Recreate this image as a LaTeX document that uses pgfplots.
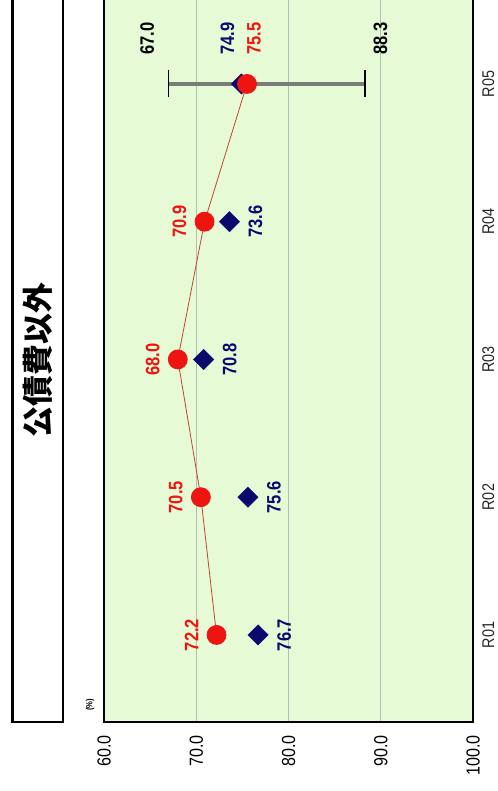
\documentclass[border=0pt]{standalone}
\usepackage{pgfplots}
\pgfplotsset{compat=1.18}
\usepackage{fontspec}
\setmainfont{Liberation Sans}
\newfontfamily\nf{Liberation Sans}[FakeStretch=0.85]
\newfontfamily\cjk{Noto Sans CJK JP}
\definecolor{bg}{RGB}{230,250,214}
\definecolor{navy}{RGB}{10,10,110}
\definecolor{redm}{RGB}{238,20,16}
\definecolor{linec}{RGB}{190,70,50}
\definecolor{gridc}{RGB}{180,190,180}
\definecolor{errc}{RGB}{120,125,120}
\begin{document}
\begin{tikzpicture}[x=1bp,y=1bp]
\draw[line width=2.5bp, fill=white] (12.5,69) rectangle (63,800);
\node[rotate=90, font=\cjk\bfseries\fontsize{31}{31}\selectfont] at (37.5,431) {公債費以外};
\node[rotate=90, font=\nf\bfseries\fontsize{9}{9}\selectfont] at (90,86) {(\%)};
\begin{axis}[
  at={(104bp,69bp)}, anchor=south west,
  scale only axis, width=369bp, height=724bp,
  xmin=60, xmax=100, ymin=0.368, ymax=5.624,
  xtick={60,70,80,90,100},
  xticklabels={60.0,70.0,80.0,90.0,100.0},
  ytick={1,2,3,4,5}, yticklabels={R01,R02,R03,R04,R05},
  yticklabel pos=right,
  major tick length=0,
  xmajorgrids, grid style={gridc, line width=1.2bp},
  axis background/.style={fill=bg},
  axis line style={line width=2bp},
  xticklabel style={rotate=90, anchor=east, font=\nf\fontsize{19}{19}\selectfont},
  xticklabel shift=10bp,
  yticklabel style={rotate=90, anchor=north, inner sep=0pt, font=\nf\fontsize{17}{17}\selectfont, text=black!85},
  yticklabel shift=9bp,
  clip=false,
]
% error bar
\addplot[errc, line width=4bp] coordinates {(67.0,5) (88.3,5)};
\addplot[only marks, mark=|, mark size=13.5bp, mark options={black, line width=1.8bp}] coordinates {(67.0,5) (88.3,5)};
% blue diamonds
\addplot[only marks, mark=square*, mark size=7.2bp, mark options={rotate=45, fill=navy, draw=navy}]
  coordinates {(76.7,1) (75.6,2) (70.8,3) (73.6,4) (74.9,5)};
% red line + circles
\addplot[linec, line width=0.8bp, mark=*, mark size=9.5bp, mark options={fill=redm, draw=redm}]
  coordinates {(72.2,1) (70.5,2) (68.0,3) (70.9,4) (75.5,5)};
% red labels (left)
\addplot[draw=none, nodes near coords, point meta=explicit symbolic,
  every node near coord/.style={xshift=-18bp, rotate=90, anchor=south, inner sep=0pt, text=redm, font=\nf\bfseries\fontsize{19.5}{19.5}\selectfont}]
  coordinates {(72.2,1) [72.2] (70.5,2) [70.5] (68.0,3) [68.0] (70.9,4) [70.9]};
% blue labels (right)
\addplot[draw=none, nodes near coords, point meta=explicit symbolic,
  every node near coord/.style={xshift=19bp, rotate=90, anchor=north, inner sep=0pt, text=navy, font=\nf\bfseries\fontsize{19.5}{19.5}\selectfont}]
  coordinates {(76.7,1) [76.7] (75.6,2) [75.6] (70.8,3) [70.8] (73.6,4) [73.6]};
% R05 labels
\addplot[draw=none, nodes near coords, point meta=explicit symbolic,
  every node near coord/.style={xshift=-14bp, yshift=29bp, rotate=90, anchor=west, inner sep=0pt, text=navy, font=\nf\bfseries\fontsize{19.5}{19.5}\selectfont}]
  coordinates {(74.9,5) [74.9]};
\addplot[draw=none, nodes near coords, point meta=explicit symbolic,
  every node near coord/.style={xshift=7bp, yshift=29bp, rotate=90, anchor=west, inner sep=0pt, text=redm, font=\nf\bfseries\fontsize{19.5}{19.5}\selectfont}]
  coordinates {(75.5,5) [75.5]};
\addplot[draw=none, nodes near coords, point meta=explicit symbolic,
  every node near coord/.style={xshift=-21.5bp, yshift=29bp, rotate=90, anchor=west, inner sep=0pt, text=black, font=\nf\bfseries\fontsize{19.5}{19.5}\selectfont}]
  coordinates {(67.0,5) [67.0]};
\addplot[draw=none, nodes near coords, point meta=explicit symbolic,
  every node near coord/.style={xshift=15.5bp, yshift=29bp, rotate=90, anchor=west, inner sep=0pt, text=black, font=\nf\bfseries\fontsize{19.5}{19.5}\selectfont}]
  coordinates {(88.3,5) [88.3]};
\end{axis}
\pgfresetboundingbox
\path[use as bounding box] (0,0) rectangle (498,791);
\end{tikzpicture}
\end{document}
